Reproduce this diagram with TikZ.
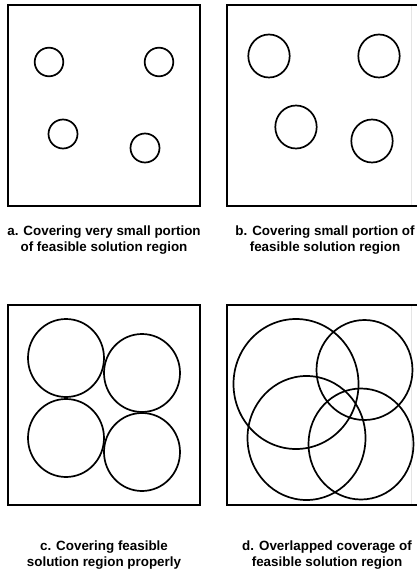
\documentclass[tikz,border=0pt]{standalone}
\usepackage{fontspec}
\setmainfont{Liberation Sans}
\begin{document}
\begin{tikzpicture}[x=1pt,y=-1pt,
  frame/.style={line width=1.9pt,black},
  ring/.style={line width=1.7pt,black},
  caption/.style={align=center,font=\bfseries\fontsize{13.4}{16.5}\selectfont,inner sep=0pt}]
\useasboundingbox (0,0) rectangle (417,575);
% panel a
\draw[frame] (8,5) rectangle (200,206);
\draw[ring] (49,62) circle[radius=14.3];
\draw[ring] (159,62) circle[radius=14.3];
\draw[ring] (63,134) circle[radius=14.5];
\draw[ring] (145,148) circle[radius=14.5];
\node[caption] (capa) at (104,240) {a. Covering very small portion\\of feasible solution region};
% panel b
\draw[frame] (419,5) -- (227,5) -- (227,206) -- (419,206);
\draw[line width=0.6pt,black!10] (411,6) -- (411,205);
\draw[ring] (269,56) ellipse[x radius=20.7,y radius=21.5];
\draw[ring] (379,56) ellipse[x radius=20.7,y radius=21.5];
\draw[ring] (296,127) ellipse[x radius=20.7,y radius=21.5];
\draw[ring] (372,141) ellipse[x radius=20.7,y radius=21.5];
\node[caption] (capb) at (325,240) {b. Covering small portion of\\feasible solution region};
% panel c
\draw[frame] (8,305) rectangle (200,505);
\draw[ring] (66,358) ellipse[x radius=38,y radius=39];
\draw[ring] (142,373) ellipse[x radius=38,y radius=39];
\draw[ring] (66,438) ellipse[x radius=38,y radius=39];
\draw[ring] (142,452) ellipse[x radius=38,y radius=39];
\node[caption] (capc) at (104,555) {c. Covering feasible\\solution region properly};
% panel d
\draw[frame] (419,305) -- (227,305) -- (227,505) -- (419,505);
\draw[line width=0.6pt,black!10] (411,306) -- (411,504);
\draw[ring] (296,384) ellipse[x radius=62.5,y radius=65];
\draw[ring] (364.5,370) ellipse[x radius=48,y radius=50];
\draw[ring] (306.5,438) ellipse[x radius=59,y radius=62];
\draw[ring] (361,444) ellipse[x radius=52.5,y radius=55.5];
\node[caption] (capd) at (327,555) {d. Overlapped coverage of\\feasible solution region};
\end{tikzpicture}
\end{document}
